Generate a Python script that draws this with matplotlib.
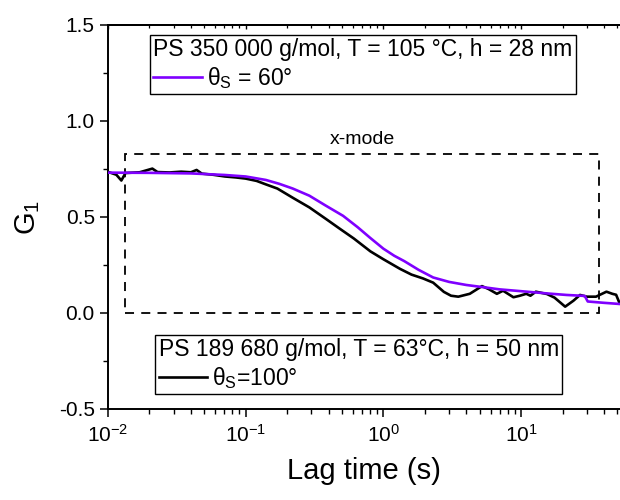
import math
import matplotlib
matplotlib.use("Agg")
import matplotlib.pyplot as plt
from matplotlib.patches import Rectangle
from matplotlib.ticker import (LogLocator, MultipleLocator, NullFormatter,
                               FormatStrFormatter)

plt.rcParams['font.family'] = ['Liberation Sans', 'DejaVu Sans']
plt.rcParams['mathtext.fontset'] = 'custom'
plt.rcParams['mathtext.rm'] = 'Liberation Sans'
plt.rcParams['mathtext.it'] = 'Liberation Sans'
plt.rcParams['mathtext.bf'] = 'Liberation Sans:bold'

# PS 350 000 g/mol, theta_s = 60 deg
t_60 = [0.01, 0.02, 0.04, 0.07, 0.1, 0.14, 0.175, 0.22, 0.29, 0.38, 0.51, 0.65,
        0.80, 1.0, 1.2, 1.42, 1.8, 2.3, 3.0, 4.0, 5.5, 7.0, 9.5, 12.3, 16, 21.4,
        29, 30.5, 40, 52]
g_60 = [0.731, 0.730, 0.727, 0.719, 0.711, 0.693, 0.673, 0.648, 0.611, 0.560,
        0.506, 0.447, 0.392, 0.335, 0.298, 0.270, 0.225, 0.185, 0.162, 0.146,
        0.133, 0.123, 0.115, 0.108, 0.101, 0.094, 0.089, 0.060, 0.053, 0.047]

# PS 189 680 g/mol, theta_s = 100 deg
t_100 = [0.0100, 0.0115, 0.0125, 0.0134, 0.017, 0.021, 0.0229, 0.028, 0.034,
         0.040, 0.044, 0.048, 0.058, 0.0707, 0.085, 0.1, 0.12, 0.14, 0.17, 0.22,
         0.29, 0.386, 0.48, 0.61, 0.805, 1.0, 1.32, 1.6, 1.94, 2.3, 2.75, 3.1,
         3.5, 4.24, 5.2, 5.8, 6.67, 7.4, 8.8, 9.8, 10.9, 11.7, 12.8, 15.4, 17.5,
         20.9, 24, 26.8, 30, 35, 41.7, 46, 49, 52]
g_100 = [0.735, 0.720, 0.690, 0.729, 0.733, 0.752, 0.734, 0.732, 0.736, 0.733,
         0.745, 0.726, 0.720, 0.711, 0.706, 0.700, 0.688, 0.670, 0.648, 0.600,
         0.550, 0.488, 0.440, 0.388, 0.321, 0.280, 0.230, 0.200, 0.180, 0.158,
         0.110, 0.090, 0.085, 0.100, 0.140, 0.125, 0.100, 0.116, 0.082, 0.090,
         0.100, 0.090, 0.111, 0.099, 0.080, 0.033, 0.064, 0.094, 0.085, 0.085,
         0.111, 0.100, 0.095, 0.050]

# x-mode region (t_min, t_max) and (G_min, G_max)
xmode_t = (0.0133, 36.8)
xmode_g = (0.0, 0.83)

legend_60 = "PS 350 000 g/mol, T = 105 °C, h = 28 nm"
legend_100 = "PS 189 680 g/mol, T = 63°C, h = 50 nm"
label_60 = r"$\mathregular{\theta_S}$ = 60°"
label_100 = r"$\mathregular{\theta_S}$=100°"

purple = '#7F00FF'
leg_fs = 16.5

fig = plt.figure(figsize=(6.2, 5.0), dpi=100)
ax = fig.add_axes([108/620, 91/500, 512/620, 384/500])

rect = Rectangle((xmode_t[0], xmode_g[0]), xmode_t[1] - xmode_t[0],
                 xmode_g[1] - xmode_g[0], fill=False, edgecolor='black',
                 linestyle=(0, (5, 4)), linewidth=1.3, zorder=1)
ax.add_patch(rect)
x_mid = 10 ** ((math.log10(xmode_t[0]) + math.log10(xmode_t[1])) / 2)
ax.text(x_mid, 0.86, "x-mode", ha='center', va='bottom', fontsize=14)

l100, = ax.plot(t_100, g_100, color='black', lw=1.9, zorder=3)
l60, = ax.plot(t_60, g_60, color=purple, lw=1.9, zorder=4)

ax.set_xscale('log')
ax.set_xlim(0.01, 52.3)
ax.set_ylim(-0.5, 1.5)
ax.yaxis.set_major_locator(MultipleLocator(0.5))
ax.yaxis.set_minor_locator(MultipleLocator(0.25))
ax.yaxis.set_major_formatter(FormatStrFormatter('%.1f'))
ax.xaxis.set_major_locator(LogLocator(base=10, numticks=10))
ax.xaxis.set_minor_locator(LogLocator(base=10, subs=range(2, 10), numticks=20))
ax.xaxis.set_minor_formatter(NullFormatter())

for side in ('left', 'bottom', 'top'):
    ax.spines[side].set_linewidth(1.4)
ax.spines['right'].set_visible(False)

ax.tick_params(which='major', direction='out', length=6, width=1.1,
               labelsize=15, top=False, right=False)
ax.tick_params(which='minor', direction='out', length=3.5, width=1.0,
               top=False, right=False)
ax.tick_params(axis='x', which='major', pad=5)

# mirrored top ticks pointing inward
top = ax.secondary_xaxis('top')
top.tick_params(which='major', direction='in', length=3, width=1.0, labeltop=False)
top.tick_params(which='minor', direction='in', length=2, width=0.9, labeltop=False)
top.xaxis.set_major_locator(LogLocator(base=10, numticks=10))
top.xaxis.set_minor_locator(LogLocator(base=10, subs=range(2, 10), numticks=20))
top.spines['top'].set_linewidth(1.4)

ax.set_xlabel("Lag time (s)", fontsize=21, labelpad=8)
ax.set_ylabel(r"$\mathregular{G_1}$", fontsize=21, labelpad=12)

leg_kw = dict(title_fontsize=leg_fs, fontsize=leg_fs, loc='upper left',
              borderaxespad=0, alignment='left', handlelength=2.1,
              handletextpad=0.25, borderpad=0.15, labelspacing=0.15,
              fancybox=False, framealpha=1, edgecolor='black')

leg1 = ax.legend([l60], [label_60], title=legend_60,
                 bbox_to_anchor=(0.082, 0.974), **leg_kw)
leg1.get_frame().set_linewidth(1.0)
ax.add_artist(leg1)

leg2 = ax.legend([l100], [label_100], title=legend_100,
                 bbox_to_anchor=(0.092, 0.193), **leg_kw)
leg2.get_frame().set_linewidth(1.0)

fig.savefig("out.png", dpi=100)
